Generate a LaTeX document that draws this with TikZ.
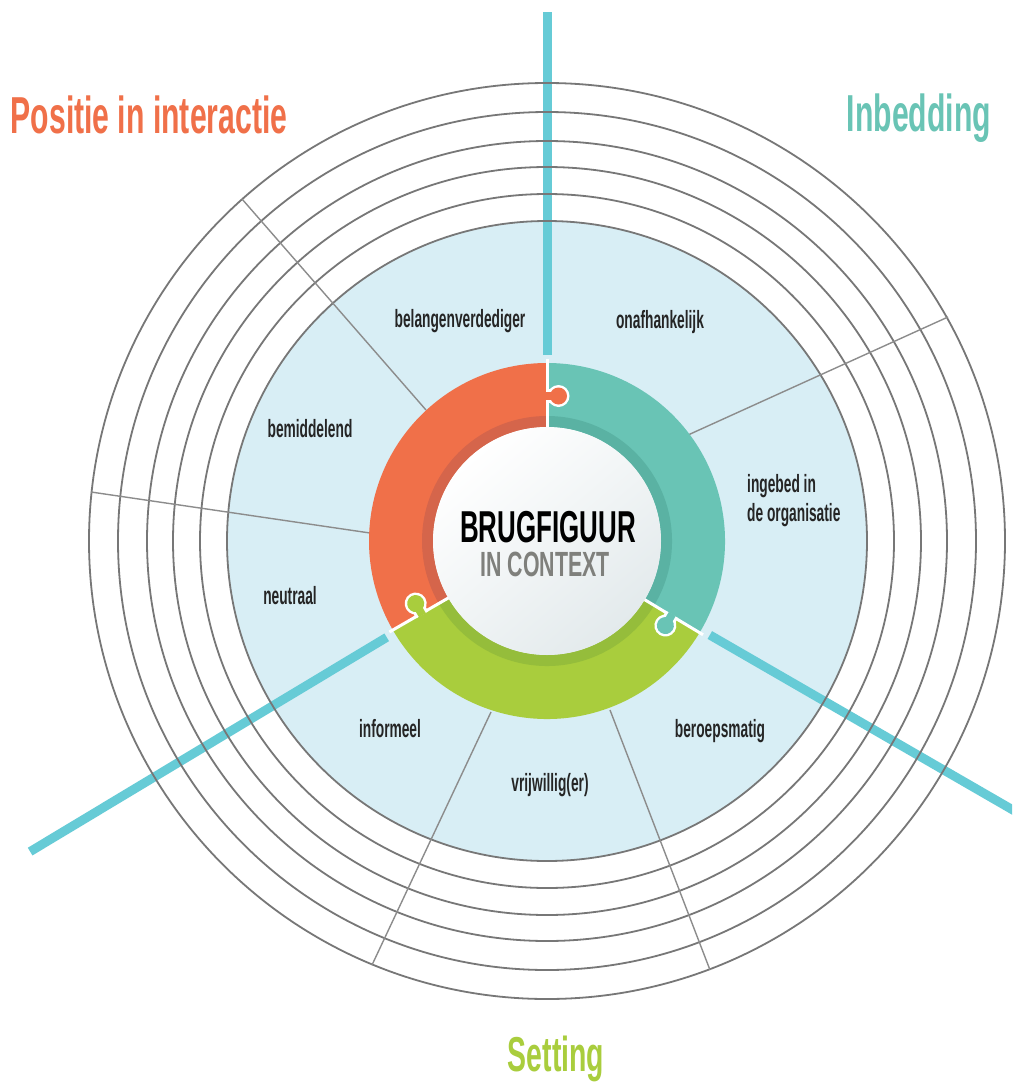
\documentclass[tikz,border=0pt]{standalone}
\usepackage{fontspec}
\setmainfont{Liberation Sans}
\newfontfamily\condfont[FakeStretch=0.58]{Liberation Sans}
\newfontfamily\labfont[FakeStretch=0.55]{Liberation Sans}
\newfontfamily\ctxfont[FakeStretch=0.61]{Liberation Sans}
\definecolor{corange}{HTML}{F07049}
\definecolor{corangeD}{HTML}{D5654B}
\definecolor{cteal}{HTML}{69C4B5}
\definecolor{ctealD}{HTML}{5AB2A3}
\definecolor{cgreen}{HTML}{A9CD3D}
\definecolor{cgreenD}{HTML}{95BD3B}
\definecolor{ccyan}{HTML}{66CBD6}
\definecolor{cdisk}{HTML}{D8EEF5}
\definecolor{cgrayline}{HTML}{777777}
\definecolor{csep}{HTML}{8C8C8C}
\definecolor{ctext}{HTML}{252525}
\definecolor{cctx}{HTML}{7F807C}
\definecolor{cshade}{HTML}{E3EAEC}
\begin{document}
\begin{tikzpicture}[x=1pt,y=1pt,
  ringline/.style={draw=cgrayline,line width=1.8pt},
  sepline/.style={draw=csep,line width=1.4pt},
  axisline/.style={draw=ccyan,line width=9pt},
  lab/.style={font=\labfont\bfseries\fontsize{25}{30}\selectfont,text=ctext,inner sep=0pt,anchor=base},
  titletext/.style={font=\condfont\bfseries\fontsize{52}{60}\selectfont,inner sep=0pt,anchor=base}]
\clip (0,0) rectangle (1012,-1084);
\fill[white] (0,0) rectangle (1012,-1084);
\begin{scope}[shift={(547,-541)}]
  % light blue disk
  \fill[cdisk] (0,0) circle (320);
  % thick axis lines
  \draw[axisline] (90:186) -- (90:529);
  \draw[axisline] (211:187) -- (211:603);
  \draw[axisline] (330:188) -- (330:640);
  % concentric rings
  \foreach \r in {320,347,374,400,429,458} \draw[ringline] (0,0) circle (\r);
  % thin separators
  \draw[sepline] (-121,131) -- (-305,342);
  \draw[sepline] (-177,8) -- (-456,49);
  \draw[sepline] (141,106) -- (401,224);
  \draw[sepline] (-56,-171) -- (-175,-424);
  \draw[sepline] (63,-169) -- (163,-429);
  % puzzle ring segments
  \fill[corange] (90:178) arc[start angle=90,end angle=210,radius=178] -- (210:114) arc[start angle=210,end angle=90,radius=114] -- cycle;
  \fill[corangeD] (90:125) arc[start angle=90,end angle=210,radius=125] -- (210:114) arc[start angle=210,end angle=90,radius=114] -- cycle;
  \fill[cteal] (-31:178) arc[start angle=-31,end angle=90,radius=178] -- (90:114) arc[start angle=90,end angle=-31,radius=114] -- cycle;
  \fill[ctealD] (-31:125) arc[start angle=-31,end angle=90,radius=125] -- (90:114) arc[start angle=90,end angle=-31,radius=114] -- cycle;
  \fill[cgreen] (210:178) arc[start angle=210,end angle=329,radius=178] -- (329:114) arc[start angle=329,end angle=210,radius=114] -- cycle;
  \fill[cgreenD] (210:125) arc[start angle=210,end angle=329,radius=125] -- (329:114) arc[start angle=329,end angle=210,radius=114] -- cycle;
  % white joints
  \foreach \a in {90,210,329} \draw[white,line width=3pt] (\a:110) -- (\a:182);
  % puzzle knobs
  \foreach \a/\c in {90/corange,210/cgreen,329/cteal}{
    \begin{scope}[rotate=\a]
      \fill[white] (145,-11.5) circle (11);
      \fill[white] (138,1.5) rectangle (152,-8);
      \fill[\c] (145,-11.5) circle (8.5);
      \fill[\c] (141,2) rectangle (149,-8);
    \end{scope}}
  % centre disk
  \shade[top color=white,bottom color=cshade,shading angle=40] (0,0) circle (114);
\end{scope}
% centre text
\node[font=\condfont\bfseries\fontsize{44.7}{50}\selectfont,text=black,inner sep=0pt,anchor=base,text depth=0pt] (brug) at (548,-542) {BRUGFIGUUR};
\node[font=\ctxfont\bfseries\fontsize{35}{40}\selectfont,text=cctx,inner sep=0pt,anchor=base,text height=25pt,text depth=0pt] (ctx) at (545,-576) {IN CONTEXT};
% titles
\node[titletext,text=corange] (tpos) at (149,-133) {Positie in interactie};
\node[titletext,text=cteal] (tinb) at (919,-131) {Inbedding};
\node[titletext,text=cgreen,font=\condfont\bfseries\fontsize{49}{56}\selectfont] (tset) at (556,-1071) {Setting};
% labels
\node[lab] (l1) at (460,-327) {belangenverdediger};
\node[lab] (l2) at (660,-328) {onafhankelijk};
\node[lab] (l3) at (310,-437) {bemiddelend};
\node[lab] (l4) at (290,-604) {neutraal};
\node[lab] (l5) at (390,-737) {informeel};
\node[lab] (l6) at (550,-791) {vrijwillig(er)};
\node[lab] (l7) at (720,-737) {beroepsmatig};
\node[lab,anchor=base west] (l8) at (747,-492) {ingebed in};
\node[lab,anchor=base west] (l9) at (747,-521) {de organisatie};
\end{tikzpicture}
\end{document}
